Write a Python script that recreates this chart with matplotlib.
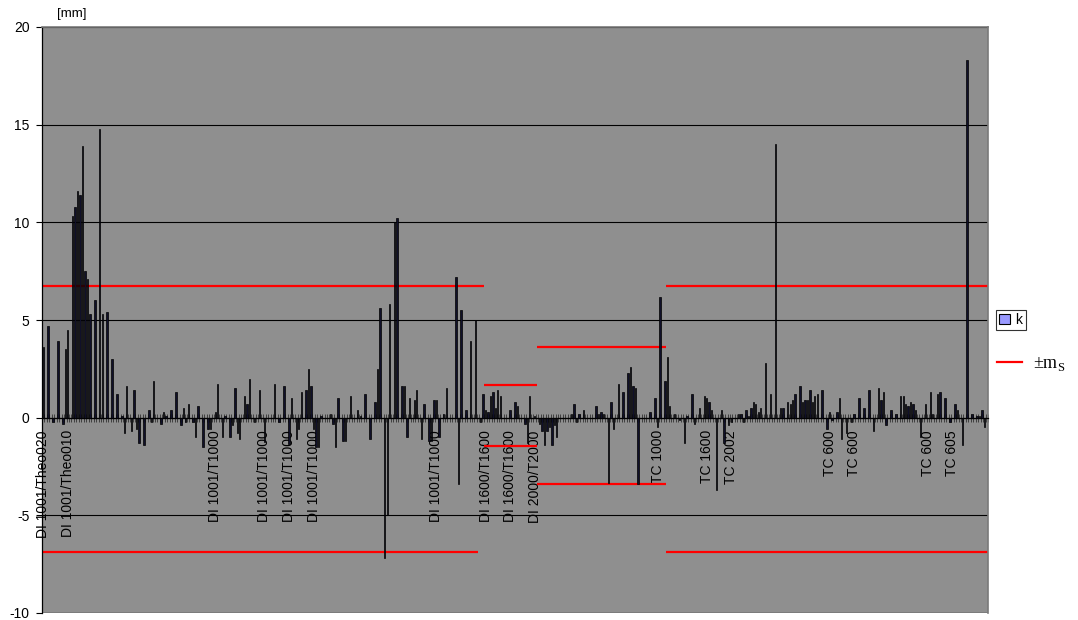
import numpy as np
import matplotlib.pyplot as plt
from matplotlib.patches import Patch
from matplotlib.lines import Line2D

# Deviation k per point [mm], ten points per row
k_values = [
    3.6, 0, 4.7, 0, -0.2, 0, 3.9, 0, -0.3, 3.5,
    4.5, 0, 10.3, 10.8, 11.6, 11.4, 13.9, 7.5, 7.1, 5.3,
    0, 6.0, 0, 14.8, 5.3, 0, 5.4, 0, 3.0, 0,
    1.2, 0, 0.1, -0.8, 1.6, 0, -0.7, 1.4, -0.6, -1.3,
    0, -1.4, 0, 0.4, -0.2, 1.9, 0, 0, -0.3, 0.3,
    0.1, 0, 0.4, 0, 1.3, 0, -0.4, 0.5, -0.2, 0.7,
    0, -0.2, -1.0, 0.6, 0, -1.5, 0, -0.6, -0.6, 0,
    0.3, 1.7, 0, -1.0, 0.1, 0, -1.0, -0.4, 1.5, -0.8,
    -1.1, 0, 1.1, 0.7, 2.0, 0, -0.2, 0, 1.4, 0,
    -1.25, 0, 0, 0, 1.7, 0, -0.2, 0, 1.6, 0,
    -1.35, 1.0, 0, -1.1, -0.6, 1.3, 0, 1.4, 2.5, 1.6,
    -0.6, -1.5, -1.5, 0.1, 0, 0, 0, 0.2, -0.3, -1.5,
    1.0, 0, -1.2, -1.2, 0, 1.1, 0, 0, 0.4, 0.1,
    0, 1.2, 0, -1.1, 0, 0.8, 2.5, 5.6, 0, -7.2,
    -5.0, 5.8, 0, 10.0, 10.2, 0, 1.6, 1.6, -1.0, 1.0,
    0, 0.9, 1.4, 0, -1.1, 0.7, 0, -1.2, -1.2, 0.9,
    0.9, -1.0, 0, 0.2, 1.5, 0, 0, 0, 7.2, -3.4,
    5.5, 0, 0.4, 0, 3.9, 0, 5.0, 0, -0.2, 1.2,
    0.4, 0.3, 1.1, 1.3, 0.5, 1.4, 1.1, 0, 0, 0,
    0.4, 0, 0.8, 0.6, 0, 0, -0.3, -1.3, 1.1, 0,
    0.1, 0, -0.3, -0.7, -1.4, -0.7, -0.5, -1.4, -0.4, -1.0,
    0, 0, 0, 0, 0, 0.2, 0.7, -0.2, 0.2, 0,
    0.4, 0, 0, 0, 0, 0.6, 0.2, 0.3, 0.2, 0,
    -3.35, 0.8, -0.6, 0, 1.7, 0, 1.3, 0, 2.3, 2.6,
    1.6, 1.5, -3.4, 0, 0, 0, 0, 0.3, 0, 1.0,
    -0.5, 6.2, 0, 1.9, 3.1, 0.6, 0, 0.2, 0, -0.1,
    0, -1.3, 0.1, 0, 1.2, -0.3, 0, 0.5, 0, 1.1,
    1.0, 0.8, 0.4, 0, -3.7, 0, 0.4, -1.3, 0, -0.4,
    -0.2, 0, 0, 0.2, 0.2, -0.2, 0.4, 0.1, 0.5, 0.8,
    0.7, 0.3, 0.5, 0, 2.8, 0, 1.2, 0, 14.0, 0,
    0.5, 0.5, 0, 0.8, 0.7, 0.9, 1.2, 0, 1.6, 0.8,
    0.9, 0.9, 1.4, 0.8, 1.1, 1.2, 0, 1.4, 0, -0.6,
    0.3, -0.1, 0, 0.3, 1.0, -1.1, 0, -0.8, 0, -0.2,
    0.2, 0, 1.0, 0, 0.5, 0, 1.4, 0, -0.7, 0,
    1.5, 0.9, 1.3, -0.4, 0, 0.4, 0, 0.2, 0, 1.1,
    1.1, 0.7, 0.6, 0.8, 0.7, 0.4, 0, -1.0, 0, 0.7,
    0, 1.3, 0.2, 0, 1.2, 1.3, 0, 1.0, 0, -0.2,
    0, 0.7, 0.4, 0, -1.4, 0, 18.3, 0, 0.2, 0,
    0.1, 0.1, 0.4, -0.5, 0,
]

# Category labels, one for every tenth point
tick_labels = [
    'DI 1001/Theo020', 'DI 1001/Theo010', '', '', '', '', '',
    'DI 1001/T1000', '', 'DI 1001/T1000', 'DI 1001/T1000', 'DI 1001/T1000',
    '', '', '', '', 'DI 1001/T1000', '',
    'DI 1600/T1600', 'DI 1600/T1600', 'DI 2000/T2000', '', '', '', '',
    'TC 1000', '', 'TC 1600', 'TC 2002', '', '', '',
    'TC 600', 'TC 600', '', '', 'TC 600', 'TC 605', '',
]

# +/- m_S limits per instrument group (start point, end point, value)
ms_start_upper = [-0.5, 179.5, 201.0, 253.5]
ms_end_upper = [179.5, 201.0, 253.5, 384.5]
ms_start_lower = [-0.5, 179.5, 201.0, 253.5]
ms_end_lower = [176.8, 201.0, 253.5, 384.5]
ms_upper = [6.72, 1.68, 3.63, 6.72]
ms_lower = [-6.9, -1.46, -3.41, -6.9]

plt.rcParams['font.family'] = 'Liberation Sans'
plt.rcParams['axes.unicode_minus'] = False

n = len(k_values)
x = np.arange(n)

fig = plt.figure(figsize=(10.78, 6.2), dpi=100)
ax = fig.add_axes([42 / 1078, 7 / 620, 946 / 1078, 586 / 620])

ax.set_facecolor('#8f8f8f')
ax.set_axisbelow(True)

# Bars for k (thin bars render as black outlines)
ax.bar(x, k_values, width=0.55, color='#10102a', edgecolor='black', linewidth=0.5, zorder=3)

# Red limit lines
ax.hlines(ms_upper, ms_start_upper, ms_end_upper, colors='#ff0000', linewidth=1.6, zorder=2)
ax.hlines(ms_lower, ms_start_lower, ms_end_lower, colors='#ff0000', linewidth=1.6, zorder=2)

# Axes limits and y ticks
ax.set_xlim(-0.5, n - 0.5)
ax.set_ylim(-10, 20)
ax.set_yticks(np.arange(-10, 21, 5))
ax.yaxis.grid(True, color='black', linewidth=0.8)
ax.tick_params(axis='y', direction='out', length=4, width=0.8, pad=5, labelsize=10)

# Category axis crossing at zero
ax.spines['bottom'].set_position(('data', 0))
ax.spines['bottom'].set_linewidth(0.9)
ax.spines['left'].set_linewidth(0.9)
for side in ['top', 'right']:
    ax.spines[side].set_color('#7a7a7a')
    ax.spines[side].set_linewidth(1.2)

# Bottom frame line at -10
ax.axhline(-10, color='#7a7a7a', linewidth=1.2, zorder=1)

ax.set_xticks(np.arange(0, n, 10))
ax.set_xticklabels(tick_labels, rotation=90, fontsize=10, va='top', ha='center')
ax.tick_params(axis='x', which='major', length=0, pad=9)
ax.set_xticks(np.arange(-0.5, n, 1), minor=True)
ax.tick_params(axis='x', which='minor', direction='inout', length=6, width=0.5, color='#202020')

# Unit label
fig.text(72 / 1078, 1 - 14 / 620, '[mm]', ha='center', va='center', fontsize=9.5)

# Legend entries
k_handle = Patch(facecolor='#9999ff', edgecolor='black', linewidth=0.8)
leg1 = fig.legend([k_handle], ['k'], loc='center left', bbox_to_anchor=(996 / 1078, 1 - 320 / 620),
                  frameon=True, fancybox=False, edgecolor='black', borderpad=0.25,
                  borderaxespad=0, handlelength=0.75, handleheight=0.75, handletextpad=0.4,
                  fontsize=10)
leg1.get_frame().set_linewidth(0.8)

ms_handle = Line2D([0], [0], color='#ff0000', linewidth=1.6)
leg2 = fig.legend([ms_handle], ['\u00b1m$_\\mathregular{S}$'], loc='center left',
                  bbox_to_anchor=(997 / 1078, 1 - 364 / 620), frameon=False,
                  borderpad=0, borderaxespad=0, handlelength=1.4, handletextpad=0.6,
                  prop={'family': 'Liberation Serif', 'size': 13})

fig.savefig('out.png', dpi=100)
